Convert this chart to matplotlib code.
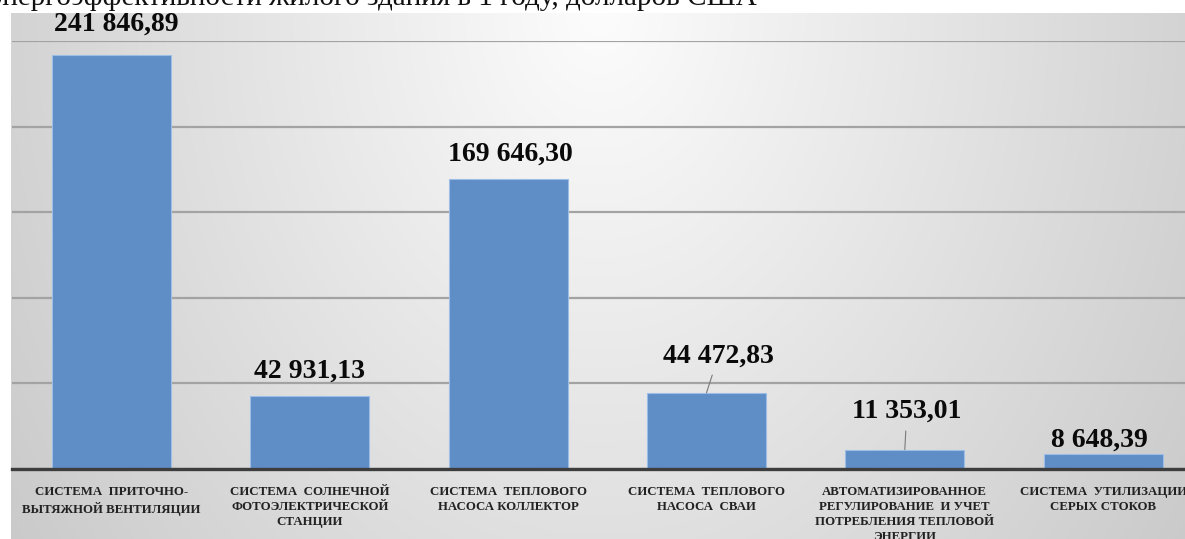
import matplotlib

matplotlib.use('Agg')
import matplotlib.pyplot as plt
import numpy as np

categories = [
    'СИСТЕМА  ПРИТОЧНО-\nВЫТЯЖНОЙ ВЕНТИЛЯЦИИ',
    'СИСТЕМА  СОЛНЕЧНОЙ\nФОТОЭЛЕКТРИЧЕСКОЙ\nСТАНЦИИ',
    'СИСТЕМА  ТЕПЛОВОГО\nНАСОСА КОЛЛЕКТОР',
    'СИСТЕМА  ТЕПЛОВОГО\nНАСОСА  СВАИ',
    'АВТОМАТИЗИРОВАННОЕ\nРЕГУЛИРОВАНИЕ  И УЧЕТ\nПОТРЕБЛЕНИЯ ТЕПЛОВОЙ\nЭНЕРГИИ',
    'СИСТЕМА  УТИЛИЗАЦИИ\nСЕРЫХ СТОКОВ',
]
values = [241846.89, 42931.13, 169646.30, 44472.83, 11353.01, 8648.39]
grid_ticks = [0, 50000, 100000, 150000, 200000, 250000]
title = 'энергоэффективности жилого здания в 1 году, долларов США'

# label offsets from the bar top, in pixels; True -> draw a leader line
label_offsets = [(5, 31), (0, 24), (2, 24), (12, 37), (2, 38), (-4, 14)]
leaders = [False, False, False, True, True, False]

W, H = 1185, 539
fig = plt.figure(figsize=(W / 100, H / 100), dpi=100)
fig.patch.set_facecolor('white')

# soft grey backdrop, lightest near the top middle
bg = fig.add_axes([11 / W, 0, 1 - 11 / W, (H - 13) / H])
bg.set_axis_off()
xs = np.linspace(11, W, 400)
ys = np.linspace(13, H, 200)
X, Y = np.meshgrid(xs, ys)
r = np.sqrt(((X - 600) / 620) ** 2 + ((Y - 10) / 800) ** 2)
shade = np.clip(0.99 - 0.17 * r, 0.78, 1.0)
bg.imshow(np.dstack([shade] * 3), aspect='auto', interpolation='bilinear')

ax = fig.add_axes([12.3 / W, 70 / H, 1190 / W, 428 / H])
ax.patch.set_alpha(0)
x = np.arange(len(values))
ax.bar(x, values, width=0.6, color='#5f8dc6', edgecolor='#9cbde6', linewidth=0.8, zorder=3)

ax.set_xlim(-0.5, len(values) - 0.5)
ax.set_ylim(0, 250000)
ax.set_yticks(grid_ticks)
ax.yaxis.grid(True, color='#a3a3a3', linewidth=1.6, zorder=1)
ax.set_axisbelow(True)
ax.tick_params(axis='y', left=False, labelleft=False)
ax.tick_params(axis='x', bottom=False, pad=9)
ax.set_xticks(x)
ax.set_xticklabels(categories, fontsize=9.3, fontweight='bold', family='Liberation Serif',
                   color='#222222', linespacing=1.32, va='top')
for side in ['left', 'right', 'top']:
    ax.spines[side].set_visible(False)
ax.spines['bottom'].set_color('#3d3d3d')
ax.spines['bottom'].set_linewidth(2.4)
ax.spines['bottom'].set_zorder(4)

for i, v in enumerate(values):
    txt = f'{v:,.2f}'.replace(',', ' ').replace('.', ',')
    dx, dy = label_offsets[i]
    arrow = None
    if leaders[i]:
        arrow = dict(arrowstyle='-', color='#7a7a7a', lw=0.8, shrinkA=3, shrinkB=0)
    ax.annotate(txt, xy=(i, v), xytext=(dx, dy), textcoords='offset pixels',
                ha='center', va='center', fontsize=20, fontweight='bold',
                family='Liberation Serif', color='#0a0a0a', arrowprops=arrow,
                annotation_clip=False, zorder=5)

fig.text(757 / W, 1 - 5 / H, title, ha='right', va='baseline', fontsize=21,
         family='Liberation Serif', color='#111111')

fig.savefig('out.png', dpi=100)
